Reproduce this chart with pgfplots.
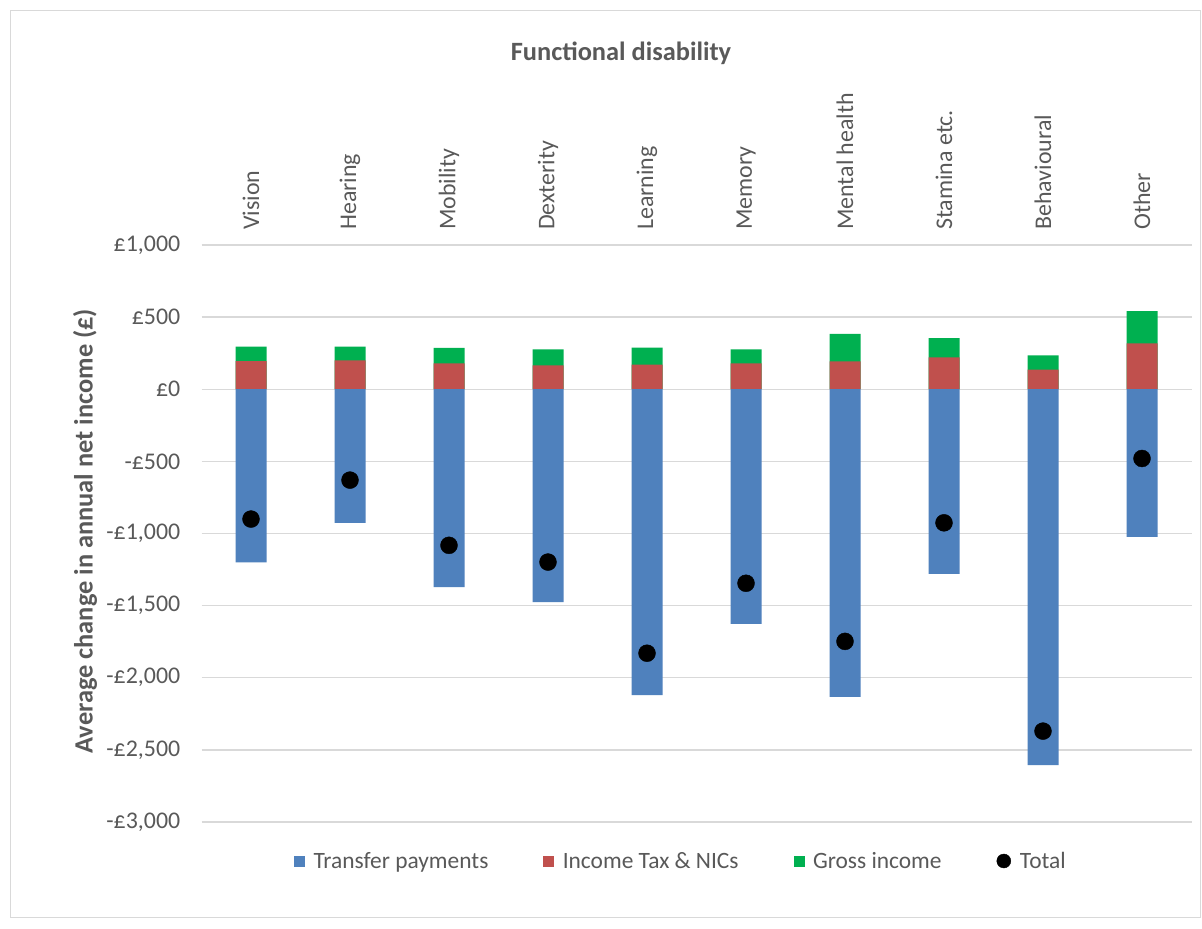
\documentclass[border=0pt]{standalone}
\usepackage{pgfplots}
\pgfplotsset{compat=1.18}
\usepackage{pgfplotstable}
\usepackage{fontspec}
\setmainfont{Carlito}

\definecolor{txt}{HTML}{595959}
\definecolor{gridc}{HTML}{D9D9D9}
\definecolor{tblue}{HTML}{4F81BD}
\definecolor{tred}{HTML}{C0504D}
\definecolor{tgreen}{HTML}{00B050}

% transfer, income tax & NICs, gross income (increment), total
\pgfplotstableread{
x transfer tax gross total
0 -1200 195 100 -900
1 -927 200 95 -630
2 -1371 180 106 -1082
3 -1475 166 111 -1198
4 -2120 170 118 -1830
5 -1627 180 97 -1345
6 -2133 194 189 -1748
7 -1280 221 134 -926
8 -2605 136 99 -2370
9 -1024 318 224 -480
}\data

\begin{document}
\begin{tikzpicture}
\path[use as bounding box, fill=white] (0bp,0bp) rectangle (1202bp,929bp);
\draw[gridc, line width=1.2bp] (10.5bp,11.5bp) rectangle (1200.5bp,918.5bp);
\begin{axis}[
    at={(201.5bp,107bp)}, anchor=south west,
    scale only axis, width=990bp, height=577bp,
    xmin=-0.5, xmax=9.5, ymin=-3000, ymax=1000,
    axis line style={draw=none},
    major tick length=0pt,
    ymajorgrids, grid style={gridc, line width=1.3bp},
    ytick={-3000,-2500,-2000,-1500,-1000,-500,0,500,1000},
    yticklabels={{-£3,000},{-£2,500},{-£2,000},{-£1,500},{-£1,000},{-£500},{£0},{£500},{£1,000}},
    yticklabel style={anchor=east, inner sep=0pt, xshift=-21bp},
    xtick={0,...,9},
    xticklabels={Vision,Hearing,Mobility,Dexterity,Learning,Memory,Mental health,Stamina etc.,Behavioural,Other},
    xticklabel pos=upper,
    xticklabel style={yshift=15bp, rotate=90, anchor=west, inner sep=0pt},
    tick label style={text=txt, font=\fontsize{24}{28}\selectfont},
    title={Functional disability},
    title style={at={(axis description cs:0.4237,1.3224)}, anchor=center,
        font=\fontsize{26.5}{30}\selectfont\bfseries, text=txt},
    ylabel={Average change in annual net income (£)},
    ylabel style={at={(axis description cs:-0.1177,0.504)}, anchor=center,
        font=\fontsize{26.5}{30}\selectfont\bfseries, text=txt},
    legend columns=4,
    legend style={at={(axis description cs:0.4833,-0.0676)}, anchor=center,
        draw=none, fill=none, font=\fontsize{23.5}{28}\selectfont, text=txt,
        nodes={inner sep=0pt},
        /tikz/every odd column/.append style={column sep=9bp},
        /tikz/every even column/.append style={column sep=55bp}},
]
\addlegendimage{legend image code/.code={\fill[tblue] (0bp,-5bp) rectangle (10bp,5bp);}}
\addlegendentry{Transfer payments}
\addlegendimage{legend image code/.code={\fill[tred] (0bp,-5bp) rectangle (10bp,5bp);}}
\addlegendentry{Income Tax \& NICs}
\addlegendimage{legend image code/.code={\fill[tgreen] (0bp,-5bp) rectangle (10bp,5bp);}}
\addlegendentry{Gross income}
\addlegendimage{legend image code/.code={\fill[black] (7bp,0bp) circle (7bp);}}
\addlegendentry{Total}

% gross income drawn to its cumulative top, tax drawn over it
\addplot[ybar, bar width=31bp, bar shift=0pt, fill=tgreen, draw=none, forget plot]
    table[x=x, y expr=\thisrow{tax}+\thisrow{gross}] {\data};
\addplot[ybar, bar width=31bp, bar shift=0pt, fill=tred, draw=none, forget plot]
    table[x=x, y=tax] {\data};
\addplot[ybar, bar width=31bp, bar shift=0pt, fill=tblue, draw=none, forget plot]
    table[x=x, y=transfer] {\data};
\addplot[only marks, mark=*, mark size=8.5bp, black, forget plot]
    table[x=x, y=total] {\data};
\end{axis}
\end{tikzpicture}
\end{document}
